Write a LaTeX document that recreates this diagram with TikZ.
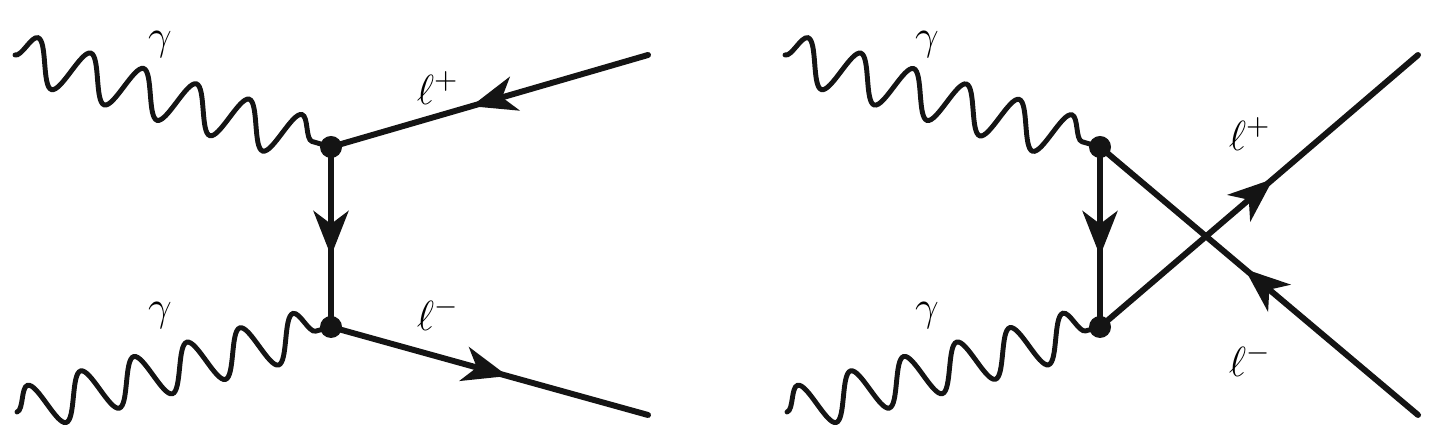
\documentclass[tikz,border=0pt]{standalone}
\usepackage{amsmath,amssymb}
\usepackage{tikz}
\usetikzlibrary{arrows.meta,decorations.pathmorphing,decorations.markings}
\usepackage{xcolor}
\definecolor{ink}{HTML}{141414}

\begin{document}
\begin{tikzpicture}[font=\large,line cap=round,
  photon/.style={ink,line width=1.4pt,decorate,
    decoration={snake,amplitude=0.23cm,segment length=0.55cm}},
  fermion/.style={ink,line width=1.7pt,postaction={decorate},
    decoration={markings,mark=at position 0.5 with
      {\arrow[xshift=0.19cm]{Stealth[length=0.45cm,width=0.35cm,inset=0.13cm]}}}},
  lbl/.style={inner sep=0pt}]
\useasboundingbox (0,0) rectangle (14.33,4.34);
% left diagram
\coordinate (a1) at (0.15,3.79);
\coordinate (a2) at (0.17,0.22);
\coordinate (va) at (3.31,2.87);
\coordinate (vb) at (3.31,1.07);
\coordinate (o1) at (6.48,3.79);
\coordinate (o2) at (6.48,0.19);
\draw[photon] (a1) -- (va);
\draw[photon] (a2) -- (vb);
\draw[fermion] (o1) -- (va);
\draw[fermion] (va) -- (vb);
\draw[fermion] (vb) -- (o2);
\fill[ink] (va) circle (0.11);
\fill[ink] (vb) circle (0.11);
\node[lbl] (ga1) at (1.60,3.89) {$\gamma$};
\node[lbl] (ga2) at (1.60,1.18) {$\gamma$};
\node[lbl] (lp1) at (4.38,3.46) {$\ell^+$};
\node[lbl] (lm1) at (4.38,1.20) {$\ell^-$};
% right diagram
\coordinate (b1) at (7.85,3.79);
\coordinate (b2) at (7.87,0.22);
\coordinate (vc) at (11.00,2.87);
\coordinate (vd) at (11.00,1.07);
\coordinate (p1) at (14.18,3.79);
\coordinate (p2) at (14.18,0.19);
\draw[photon] (b1) -- (vc);
\draw[photon] (b2) -- (vd);
\draw[fermion] (p2) -- (vc);
\draw[fermion] (vc) -- (vd);
\draw[fermion] (vd) -- (p1);
\fill[ink] (vc) circle (0.11);
\fill[ink] (vd) circle (0.11);
\node[lbl] (gb1) at (9.27,3.89) {$\gamma$};
\node[lbl] (gb2) at (9.27,1.18) {$\gamma$};
\node[lbl] (lp2) at (12.50,3.00) {$\ell^+$};
\node[lbl] (lm2) at (12.50,0.74) {$\ell^-$};
\end{tikzpicture}
\end{document}
